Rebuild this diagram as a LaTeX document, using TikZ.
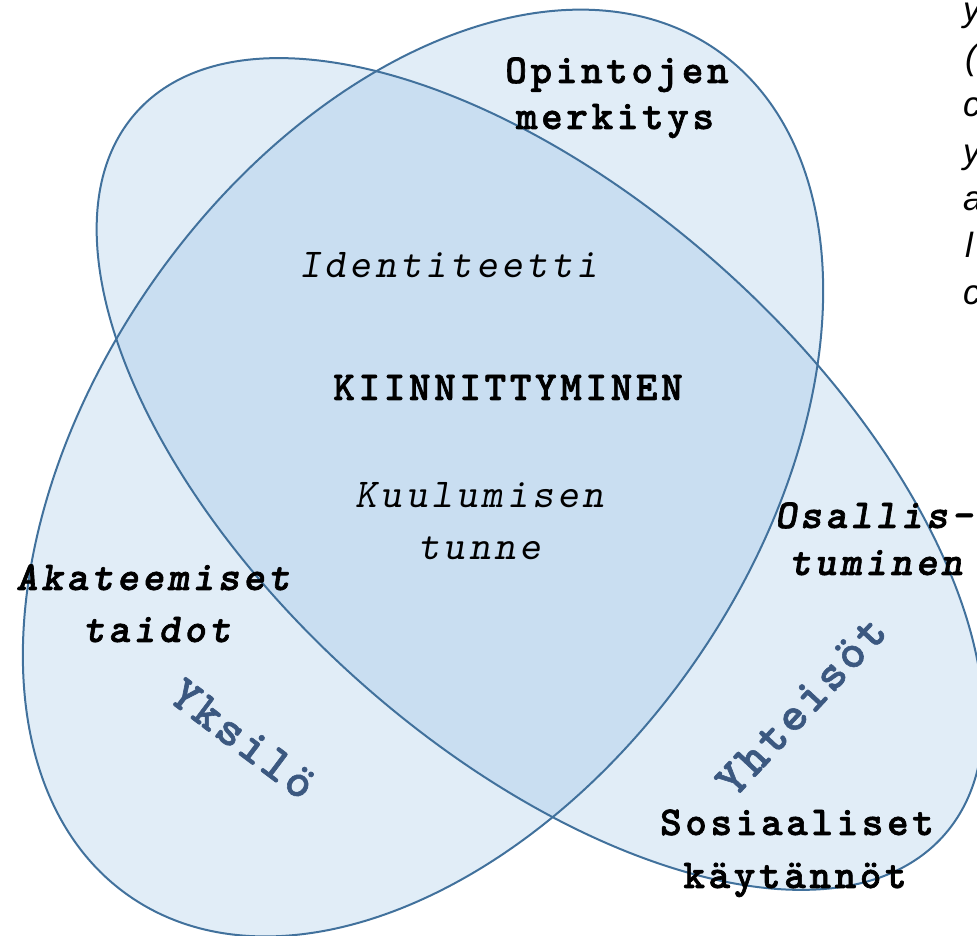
\documentclass[tikz,border=0pt]{standalone}
\usepackage{fontspec}
\newfontfamily\cb[LetterSpace=9,FakeBold=1.6]{lmmonolt10-bold.otf}
\newfontfamily\ci[LetterSpace=9]{lmmonoslant10-regular.otf}
\newfontfamily\cbi[LetterSpace=9,FakeBold=1.6]{lmmonolt10-boldoblique.otf}
\newfontfamily\cbig[LetterSpace=6,FakeBold=1.2]{lmmonolt10-bold.otf}
\newfontfamily\sidefont{Liberation Sans}
\definecolor{edgeblue}{HTML}{41719C}
\definecolor{blobfill}{HTML}{5B9BD5}
\definecolor{lblblue}{RGB}{59,88,128}
\tikzset{
  blob/.style={fill=blobfill, fill opacity=0.18},
  rim/.style={draw=edgeblue, line width=2pt},
  boldlbl/.style={anchor=base, inner sep=0pt, font=\cb\fontsize{41}{46}\selectfont},
  itlbl/.style={anchor=base, inner sep=0pt, font=\ci\fontsize{41}{46}\selectfont},
  bilbl/.style={anchor=base, inner sep=0pt, font=\cbi\fontsize{41}{46}\selectfont},
  biglbl/.style={inner sep=0pt, text=lblblue, font=\cbig\fontsize{49}{54}\selectfont},
  sidelbl/.style={anchor=base west, inner sep=0pt, font=\sidefont\itshape\fontsize{35}{40}\selectfont}
}
\begin{document}
\begin{tikzpicture}[x=1pt,y=1pt]
\useasboundingbox (0,0) rectangle (977,936);
\clip (0,0) rectangle (977,936);
\coordinate (c1) at (423,463);
\coordinate (c2) at (540,462);
% fills
\fill[blob, rotate around={55.25:(c1)}] (c1) ellipse [x radius=515pt, y radius=331pt];
\fill[blob, rotate around={-41.9:(c2)}] (c2) ellipse [x radius=542pt, y radius=275pt];
% outlines
\draw[rim, rotate around={55.25:(c1)}] (c1) ellipse [x radius=515pt, y radius=331pt];
\draw[rim, rotate around={-41.9:(c2)}] (c2) ellipse [x radius=542pt, y radius=275pt];
% labels
\node[boldlbl] (op1) at (617,853) {Opintojen};
\node[boldlbl] (op2) at (615,807) {merkitys};
\node[itlbl] (ident) at (449,658) {Identiteetti};
\node[boldlbl] (kiin) at (508,536) {KIINNITTYMINEN};
\node[itlbl] (kuu1) at (480,428) {Kuulumisen};
\node[itlbl] (kuu2) at (480,376) {tunne};
\node[bilbl] (aka1) at (153,346) {Akateemiset};
\node[bilbl] (aka2) at (157,294) {taidot};
\node[bilbl] (osa1) at (874,408) {Osallis-};
\node[bilbl] (osa2) at (876,361) {tuminen};
\node[boldlbl] (sos1) at (797,101) {Sosiaaliset};
\node[boldlbl] (sos2) at (795,48) {käytännöt};
\node[biglbl, rotate=-37] (yks) at (243,197) {Yksilö};
\node[biglbl, rotate=47] (yht) at (801,230) {Yhteisöt};
% cut-off side text
\node[sidelbl] (s1) at (963,914) {y};
\node[sidelbl] (s2) at (965,866) {(};
\node[sidelbl] (s3) at (963,819) {c};
\node[sidelbl] (s4) at (963,772) {y};
\node[sidelbl] (s5) at (963,725) {a};
\node[sidelbl] (s6) at (965,678) {l};
\node[sidelbl] (s7) at (963,631) {c};
\end{tikzpicture}
\end{document}
